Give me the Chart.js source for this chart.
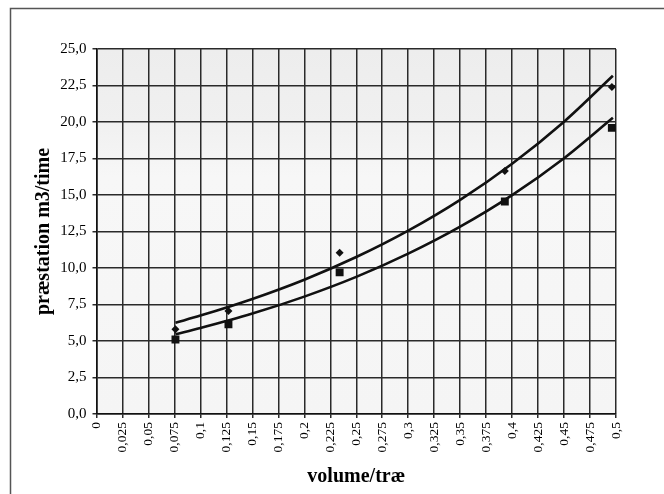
<!DOCTYPE html>
<html>
<head>
<meta charset="utf-8">
<script src="https://cdn.jsdelivr.net/npm/chart.js@4/dist/chart.umd.min.js"></script>
<style>
  html, body { margin: 0; padding: 0; background: #fff; }
  #wrap { width: 664px; height: 494px; }
</style>
</head>
<body>
<div id="wrap"><canvas id="chart" width="664" height="494"></canvas></div>
<script>
// measured points (volume per tree -> m3 per hour)
const volume = [0.076, 0.127, 0.234, 0.393, 0.496];
const diamondSeries = [5.8, 7.05, 11.05, 16.65, 22.4];
const squareSeries = [5.1, 6.15, 9.7, 14.55, 19.6];

// trend curves
const trendX = [0.076, 0.1, 0.15, 0.2, 0.25, 0.3, 0.35, 0.4, 0.45, 0.497];
const trendUpper = [6.25, 6.74, 7.88, 9.2, 10.75, 12.56, 14.67, 17.14, 20.02, 23.17];
const trendLower = [5.46, 5.89, 6.88, 8.04, 9.39, 10.98, 12.83, 14.99, 17.52, 20.29];

// tick labels
const xTicks = [0, 0.025, 0.05, 0.075, 0.1, 0.125, 0.15, 0.175, 0.2, 0.225, 0.25,
                0.275, 0.3, 0.325, 0.35, 0.375, 0.4, 0.425, 0.45, 0.475, 0.5];
const xTickLabels = ['0', '0,025', '0,05', '0,075', '0,1', '0,125', '0,15', '0,175', '0,2', '0,225', '0,25',
                     '0,275', '0,3', '0,325', '0,35', '0,375', '0,4', '0,425', '0,45', '0,475', '0,5'];
const yTicks = [0, 2.5, 5, 7.5, 10, 12.5, 15, 17.5, 20, 22.5, 25];
const yTickLabels = ['0,0', '2,5', '5,0', '7,5', '10,0', '12,5', '15,0', '17,5', '20,0', '22,5', '25,0'];

function toPoints(xs, ys) {
    return xs.map((x, i) => ({x: x, y: ys[i]}));
}

// white page, frame lines and light grey plot area
const backdrop = {
    id: 'backdrop',
    beforeDraw(chart) {
        const ctx = chart.ctx;
        const a = chart.chartArea;
        ctx.save();
        ctx.fillStyle = '#fff';
        ctx.fillRect(0, 0, chart.width, chart.height);

        ctx.strokeStyle = '#555';
        ctx.lineWidth = 1.5;
        ctx.beginPath();
        ctx.moveTo(10.5, chart.height);
        ctx.lineTo(10.5, 8.5);
        ctx.lineTo(chart.width, 8.5);
        ctx.stroke();

        const g = ctx.createLinearGradient(0, a.top, 0, a.bottom);
        g.addColorStop(0, '#ededed');
        g.addColorStop(0.2, '#f0f0f0');
        g.addColorStop(0.35, '#f7f7f7');
        g.addColorStop(1, '#f5f5f5');
        ctx.fillStyle = g;
        ctx.fillRect(a.left, a.top, a.right - a.left, a.bottom - a.top);
        ctx.restore();
    }
};

new Chart(document.getElementById('chart'), {
    type: 'scatter',
    data: {
        datasets: [
            {
                label: 'serie 1',
                data: toPoints(volume, diamondSeries),
                pointStyle: 'rectRot',
                pointRadius: 4,
                backgroundColor: '#111',
                borderColor: '#111',
                borderWidth: 0,
                showLine: false
            },
            {
                label: 'serie 2',
                data: toPoints(volume, squareSeries),
                pointStyle: 'rect',
                pointRadius: 5.6,
                backgroundColor: '#111',
                borderColor: '#111',
                borderWidth: 0,
                showLine: false
            },
            {
                label: 'trend 1',
                data: toPoints(trendX, trendUpper),
                showLine: true,
                pointRadius: 0,
                borderColor: '#111',
                borderWidth: 2.6,
                cubicInterpolationMode: 'monotone'
            },
            {
                label: 'trend 2',
                data: toPoints(trendX, trendLower),
                showLine: true,
                pointRadius: 0,
                borderColor: '#111',
                borderWidth: 2.6,
                cubicInterpolationMode: 'monotone'
            }
        ]
    },
    options: {
        responsive: false,
        animation: false,
        layout: {
            padding: {top: 49, left: 10, right: 48, bottom: 0}
        },
        plugins: {
            legend: {display: false},
            tooltip: {enabled: false}
        },
        scales: {
            x: {
                type: 'linear',
                min: 0,
                max: 0.5,
                afterBuildTicks: (scale) => {
                    scale.ticks = xTicks.map(v => ({value: v}));
                },
                afterFit: (scale) => {
                    scale.height = 80;
                },
                ticks: {
                    autoSkip: false,
                    minRotation: 90,
                    maxRotation: 90,
                    padding: 4,
                    color: '#000',
                    font: {family: 'Liberation Serif', size: 13.5},
                    callback: (value, index) => xTickLabels[index]
                },
                grid: {
                    color: '#2a2a2a',
                    lineWidth: 1.5,
                    tickLength: 4,
                    tickColor: '#2a2a2a'
                },
                border: {color: '#111', width: 1.6},
                title: {
                    display: true,
                    text: 'volume/træ',
                    color: '#000',
                    padding: {top: 0, bottom: 5},
                    font: {family: 'Liberation Serif', size: 20, weight: 'bold'}
                }
            },
            y: {
                type: 'linear',
                min: 0,
                max: 25,
                afterBuildTicks: (scale) => {
                    scale.ticks = yTicks.map(v => ({value: v}));
                },
                afterFit: (scale) => {
                    scale.width = 86.5;
                },
                ticks: {
                    padding: 6,
                    color: '#000',
                    font: {family: 'Liberation Serif', size: 15},
                    callback: (value, index) => yTickLabels[index]
                },
                grid: {
                    color: '#2a2a2a',
                    lineWidth: 1.5,
                    tickLength: 4,
                    tickColor: '#2a2a2a'
                },
                border: {color: '#111', width: 1.6},
                title: {
                    display: true,
                    text: 'præstation m3/time',
                    color: '#000',
                    padding: {top: 22, bottom: 0},
                    font: {family: 'Liberation Serif', size: 20, weight: 'bold'}
                }
            }
        }
    },
    plugins: [backdrop]
});
</script>
</body>
</html>
